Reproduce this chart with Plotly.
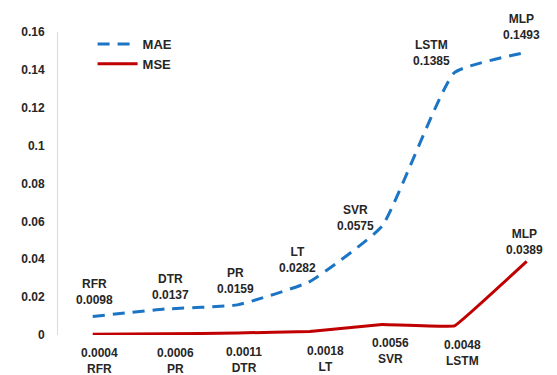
import plotly.graph_objects as go

# Model error metrics
mae_models = ["RFR", "DTR", "PR", "LT", "SVR", "LSTM", "MLP"]
mae_values = [0.0098, 0.0137, 0.0159, 0.0282, 0.0575, 0.1385, 0.1493]

mse_models = ["RFR", "PR", "DTR", "LT", "SVR", "LSTM", "MLP"]
mse_values = [0.0004, 0.0006, 0.0011, 0.0018, 0.0056, 0.0048, 0.0389]

y_ticks = [0, 0.02, 0.04, 0.06, 0.08, 0.1, 0.12, 0.14, 0.16]
y_tick_text = ["0", "0.02", "0.04", "0.06", "0.08", "0.1", "0.12", "0.14", "0.16"]

FONT = "Liberation Sans"
TXT = "#262626"
BLUE = "#1B75C4"
RED = "#C00000"

xs = list(range(len(mae_models)))

fig = go.Figure()
fig.add_trace(go.Scatter(
    x=xs, y=mae_values, name="<b>MAE</b>", mode="lines",
    line=dict(color=BLUE, width=3, dash="12px,8px", shape="spline", smoothing=0.4),
))
fig.add_trace(go.Scatter(
    x=xs, y=mse_values, name="<b>MSE</b>", mode="lines",
    line=dict(color=RED, width=3, shape="spline", smoothing=0.15),
))

# MAE labels sit above the dashed curve
mae_shift = [(2, 24), (5, 22), (-2, 24), (-12, 22), (-27, 8), (-23, 20), (-5, 25)]
for i, (m, v) in enumerate(zip(mae_models, mae_values)):
    dx, dy = mae_shift[i]
    fig.add_annotation(x=i, y=v, text=f"<b>{m}<br>{v:.4f}</b>", showarrow=False,
                       xshift=dx, yshift=dy, font=dict(family=FONT, size=12, color=TXT),
                       align="center")

# MSE labels sit below the line, except the last one above it
mse_shift = [(7, -27), (10, -27), (7, -27), (16, -27), (8, -27), (8, -27), (-2, 19)]
for i, (m, v) in enumerate(zip(mse_models, mse_values)):
    dx, dy = mse_shift[i]
    if i == len(mse_models) - 1:
        txt = f"<b>{m}<br>{v:.4f}</b>"
    else:
        txt = f"<b>{v:.4f}<br>{m}</b>"
    fig.add_annotation(x=i, y=v, text=txt, showarrow=False,
                       xshift=dx, yshift=dy, font=dict(family=FONT, size=12, color=TXT),
                       align="center")

fig.update_layout(
    width=557, height=375,
    margin=dict(l=58, r=5, t=32, b=40),
    paper_bgcolor="white", plot_bgcolor="white",
    font=dict(family=FONT, size=12, color=TXT),
    showlegend=True,
    legend=dict(x=0.07, y=1.01, xanchor="left", yanchor="top",
                bgcolor="rgba(0,0,0,0)", font=dict(family=FONT, size=13, color=TXT),
                itemwidth=40, tracegroupgap=2),
    xaxis=dict(range=[-0.48, 6.35], showticklabels=False, showgrid=False,
               zeroline=False, showline=False, ticks=""),
    yaxis=dict(range=[0, 0.16], tickvals=y_ticks,
               ticktext=[f"<b>{t}</b>" for t in y_tick_text],
               showgrid=False, zeroline=False, showline=True, linecolor="#D6DCE5",
               linewidth=1, ticks="", ticklabelstandoff=10,
               tickfont=dict(family=FONT, size=12, color=TXT)),
)

fig.write_html("out.html")
